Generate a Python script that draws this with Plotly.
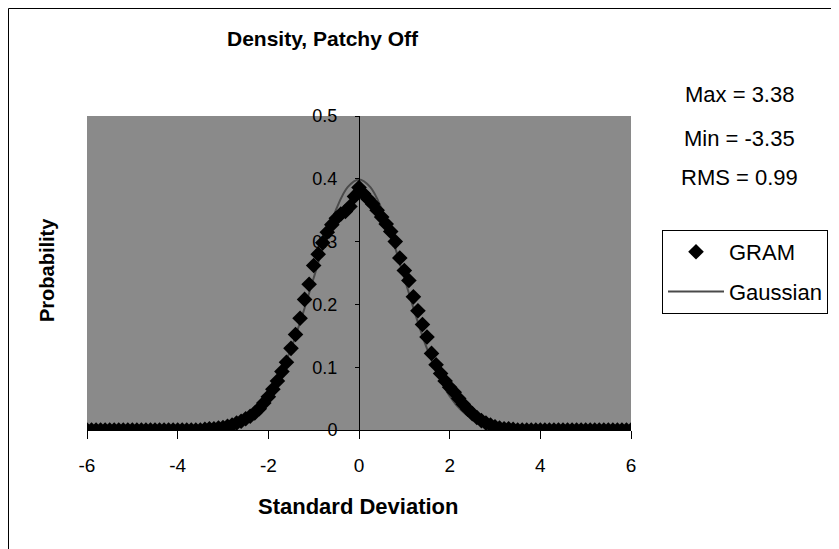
import numpy as np
import plotly.graph_objects as go

# ---- data ----
gram_x = np.round(np.arange(-6.0, 6.0001, 0.1), 1)
gram_y = (
    [0.0] * 26 +
    [0.001, 0.002, 0.002, 0.003, 0.004, 0.006, 0.008, 0.011, 0.014, 0.018,
     0.022, 0.027, 0.034, 0.043, 0.053, 0.065, 0.078, 0.093, 0.108, 0.130,
     0.152, 0.178, 0.208, 0.232, 0.262, 0.280, 0.298, 0.315, 0.327, 0.337,
     0.344, 0.348, 0.356, 0.372, 0.386, 0.376, 0.368, 0.360, 0.350, 0.339,
     0.328, 0.316, 0.300, 0.274, 0.254, 0.238, 0.212, 0.190, 0.168, 0.148,
     0.122, 0.104, 0.090, 0.078, 0.068, 0.060, 0.050, 0.041, 0.033, 0.026,
     0.020, 0.015, 0.011, 0.008, 0.005, 0.003, 0.002, 0.002, 0.001] +
    [0.0] * 26
)

gauss_x = [-6, -5, -4, -3.75, -3.5, -3.25, -3, -2.75, -2.5, -2.25, -2, -1.75, -1.5,
           -1.25, -1, -0.75, -0.5, -0.25, 0, 0.25, 0.5, 0.75, 1, 1.25, 1.5, 1.75,
           2, 2.25, 2.5, 2.75, 3, 3.25, 3.5, 3.75, 4, 5, 6]
gauss_y = [0.0, 0.0, 0.0001, 0.0004, 0.0009, 0.002, 0.0044, 0.0091, 0.0175, 0.0317,
           0.054, 0.0863, 0.1295, 0.1826, 0.242, 0.3011, 0.3521, 0.3867, 0.3989,
           0.3867, 0.3521, 0.3011, 0.242, 0.1826, 0.1295, 0.0863, 0.054, 0.0317,
           0.0175, 0.0091, 0.0044, 0.002, 0.0009, 0.0004, 0.0001, 0.0, 0.0]

x_ticks = [-6, -4, -2, 0, 2, 4, 6]
y_ticks = [0, 0.1, 0.2, 0.3, 0.4, 0.5]
y_ticklabels = ["0", "0.1", "0.2", "0.3", "0.4", "0.5"]

title_text = "Density, Patchy Off"
x_title = "Standard Deviation"
y_title = "Probability"
stats = ["Max = 3.38", "Min = -3.35", "RMS = 0.99"]

FONT = "Liberation Sans, Arial, sans-serif"
OFF = 8                      # page body margin
W, H = 839 - OFF, 549 - OFF
L, R, T, B = 87, 631, 116, 430   # plot area in reference pixels


def px(x):
    return (x - L) / (R - L)


def py(y):
    return (B - y) / (B - T)


fig = go.Figure()
fig.add_trace(go.Scatter(
    x=gauss_x, y=gauss_y, mode="lines", name="Gaussian", line_shape="spline",
    line=dict(color="#4a4a4a", width=2), legendrank=2, legendgroup="b",
))
fig.add_trace(go.Scatter(
    x=gram_x, y=gram_y, mode="markers", name="GRAM",
    marker=dict(symbol="diamond", color="black", size=12), legendrank=1, legendgroup="a",
))

annotations = [
    dict(text="<b>" + title_text + "</b>", x=px(323), y=py(38), xref="paper", yref="paper",
         showarrow=False, font=dict(size=21, color="black", family=FONT),
         xanchor="center", yanchor="middle"),
    dict(text="<b>" + x_title + "</b>", x=px(358), y=py(506), xref="paper", yref="paper",
         showarrow=False, font=dict(size=22, color="black", family=FONT),
         xanchor="center", yanchor="middle"),
    dict(text="<b>" + y_title + "</b>", x=px(47), y=py(270), xref="paper", yref="paper",
         showarrow=False, textangle=-90, font=dict(size=20, color="black", family=FONT),
         xanchor="center", yanchor="middle"),
]
for s, yc in zip(stats, [94, 138, 177]):
    annotations.append(dict(text=s, x=px(739), y=py(yc), xref="paper", yref="paper",
                            showarrow=False, font=dict(size=22, color="black", family=FONT),
                            xanchor="center", yanchor="middle"))

shapes = [
    dict(type="path", xref="paper", yref="paper", layer="below",
         path=f"M {px(900)} {py(8.5)} L {px(8.5)} {py(8.5)} L {px(8.5)} {py(600)}",
         line=dict(color="black", width=1)),
]

fig.update_layout(
    width=W, height=H,
    margin=dict(l=L - OFF, r=W - (R - OFF), t=T - OFF, b=H - (B - OFF), pad=0),
    paper_bgcolor="white",
    plot_bgcolor="#8a8a8a",
    font=dict(family=FONT, color="black", size=18),
    showlegend=True,
    legend=dict(x=(662 - OFF) / W, y=py(230), xref="container", xanchor="left",
                yanchor="top",
                bgcolor="white", bordercolor="black", borderwidth=1,
                font=dict(size=22, family=FONT, color="black"),
                traceorder="grouped", tracegroupgap=8, itemwidth=56),
    annotations=annotations,
    shapes=shapes,
    xaxis=dict(range=[-6, 6], tickvals=x_ticks, ticktext=[str(v) for v in x_ticks],
               showgrid=False, zeroline=False, showline=True, linecolor="black",
               linewidth=1, ticks="outside", ticklen=8, tickcolor="black",
               tickfont=dict(size=19), ticklabelstandoff=10),
    yaxis=dict(range=[0, 0.5], tickvals=y_ticks, ticktext=y_ticklabels,
               anchor="free", position=0.5, showgrid=False, zeroline=False,
               showline=True, linecolor="black", linewidth=1, ticks="outside",
               ticklen=4, tickcolor="black", tickfont=dict(size=18),
               ticklabelstandoff=14),
)

fig.write_html("out.html")
